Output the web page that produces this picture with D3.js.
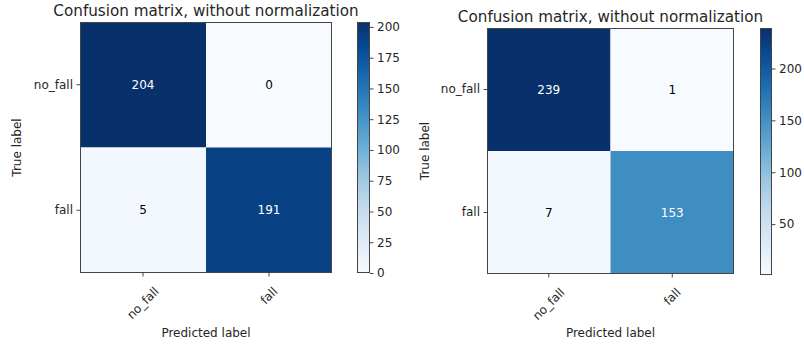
<!DOCTYPE html>
<html>
<head>
<meta charset="utf-8">
<script src="https://cdn.jsdelivr.net/npm/d3@7"></script>
<style>
  body { margin: 0; background: #fff; }
  text { font-family: "DejaVu Sans", sans-serif; fill: #262626; }
</style>
</head>
<body>
<div id="chart"></div>
<script>
let classes = ['no_fall', 'fall'];
let title = 'Confusion matrix, without normalization';
let xLabel = 'Predicted label';
let yLabel = 'True label';

// left matrix (rows = true, cols = predicted)
let matrixA = [[204, 0], [5, 191]];
let ticksA = [0, 25, 50, 75, 100, 125, 150, 175, 200];
// right matrix
let matrixB = [[239, 1], [7, 153]];
let ticksB = [50, 100, 150, 200];

// matplotlib "Blues"
let bluesStops = ['#f7fbff', '#deebf7', '#c6dbef', '#9ecae1', '#6baed6', '#4292c6', '#2171b5', '#08519c', '#08306b'];
let blues = d3.piecewise(d3.interpolateRgb, bluesStops);

let width = 804, height = 347;
let svg = d3.select('#chart').append('svg')
  .attr('width', width)
  .attr('height', height);

let defs = svg.append('defs');

function drawPanel(id, matrix, ticks, box) {
  let flat = matrix.flat();
  let vmin = d3.min(flat), vmax = d3.max(flat);
  let color = v => blues((v - vmin) / (vmax - vmin));

  let x = d3.scaleBand().domain(classes).range([box.x0, box.x1]);
  let y = d3.scaleBand().domain(classes).range([box.y0, box.y1]);

  let g = svg.append('g');

  let cells = [];
  matrix.forEach((row, i) => row.forEach((v, j) => cells.push({ r: classes[i], c: classes[j], v: v })));

  g.selectAll('rect.cell')
    .data(cells)
    .enter().append('rect')
    .attr('class', 'cell')
    .attr('x', d => x(d.c))
    .attr('y', d => y(d.r))
    .attr('width', x.bandwidth())
    .attr('height', y.bandwidth())
    .attr('fill', d => color(d.v));

  g.selectAll('text.val')
    .data(cells)
    .enter().append('text')
    .attr('class', 'val')
    .attr('x', d => x(d.c) + x.bandwidth() / 2)
    .attr('y', d => y(d.r) + y.bandwidth() / 2)
    .attr('text-anchor', 'middle')
    .attr('dominant-baseline', 'central')
    .style('font-size', '12px')
    .style('fill', d => d.v > vmax / 2 ? '#fff' : '#000')
    .text(d => d.v);

  // frame
  g.append('rect')
    .attr('x', box.x0 + 0.5).attr('y', box.y0 + 0.5)
    .attr('width', box.x1 - box.x0 - 1).attr('height', box.y1 - box.y0 - 1)
    .attr('fill', 'none').attr('stroke', '#444').attr('stroke-width', 1);

  // y axis
  let yAxis = d3.axisLeft(y).tickSize(3.5).tickPadding(3.5);
  let ya = g.append('g')
    .attr('transform', `translate(${box.x0}, 0)`)
    .call(yAxis);
  ya.select('.domain').remove();
  ya.selectAll('text').style('font-size', '12px').attr('fill', '#262626');
  ya.selectAll('line').attr('stroke', '#444');

  // x axis
  let xAxis = d3.axisBottom(x).tickSize(3.5).tickFormat('');
  let xa = g.append('g')
    .attr('transform', `translate(0, ${box.y1})`)
    .call(xAxis);
  xa.select('.domain').remove();
  xa.selectAll('line').attr('stroke', '#444');

  classes.forEach(c => {
    let t = g.append('text')
      .attr('text-anchor', 'middle')
      .attr('dominant-baseline', 'central')
      .style('font-size', '12px')
      .text(c);
    let L = t.node().getComputedTextLength();
    let hb = (L + 12) * Math.SQRT1_2;
    t.attr('transform', `translate(${x(c) + x.bandwidth() / 2}, ${box.y1 + 12 + hb / 2}) rotate(-45)`);
  });

  // titles
  g.append('text')
    .attr('x', (box.x0 + box.x1) / 2)
    .attr('y', box.y0 - 6)
    .attr('text-anchor', 'middle')
    .style('font-size', '15.2px')
    .text(title);

  g.append('text')
    .attr('x', (box.x0 + box.x1) / 2)
    .attr('y', box.labelY)
    .attr('text-anchor', 'middle')
    .style('font-size', '12px')
    .text(xLabel);

  g.append('text')
    .attr('transform', `translate(${box.ylabX}, ${(box.y0 + box.y1) / 2}) rotate(-90)`)
    .attr('text-anchor', 'middle')
    .attr('dominant-baseline', 'central')
    .style('font-size', '12px')
    .text(yLabel);

  // colorbar
  let grad = defs.append('linearGradient')
    .attr('id', id)
    .attr('x1', 0).attr('y1', 1).attr('x2', 0).attr('y2', 0);
  d3.range(0, 1.0001, 0.05).forEach(t => {
    grad.append('stop').attr('offset', t).attr('stop-color', blues(t));
  });

  let cs = d3.scaleLinear().domain([vmin, vmax]).range([box.cb1, box.cb0]);
  g.append('rect')
    .attr('x', box.cbx).attr('y', box.cb0)
    .attr('width', box.cbw).attr('height', box.cb1 - box.cb0)
    .attr('fill', `url(#${id})`);
  g.append('rect')
    .attr('x', box.cbx + 0.5).attr('y', box.cb0 + 0.5)
    .attr('width', box.cbw - 1).attr('height', box.cb1 - box.cb0 - 1)
    .attr('fill', 'none').attr('stroke', '#444');

  let cAxis = d3.axisRight(cs).tickValues(ticks).tickSize(3.5).tickPadding(3.5);
  let ca = g.append('g')
    .attr('transform', `translate(${box.cbx + box.cbw}, 0)`)
    .call(cAxis);
  ca.select('.domain').remove();
  ca.selectAll('text').style('font-size', '12px').attr('fill', '#262626');
  ca.selectAll('line').attr('stroke', '#444');
}

drawPanel('cbA', matrixA, ticksA,
  { x0: 80, x1: 332, y0: 22, y1: 273, labelY: 337, ylabX: 17, cbx: 357, cbw: 13, cb0: 22, cb1: 273 });
drawPanel('cbB', matrixB, ticksB,
  { x0: 487, x1: 734, y0: 28, y1: 274, labelY: 337, ylabX: 425, cbx: 760, cbw: 12, cb0: 28, cb1: 275 });
</script>
</body>
</html>
